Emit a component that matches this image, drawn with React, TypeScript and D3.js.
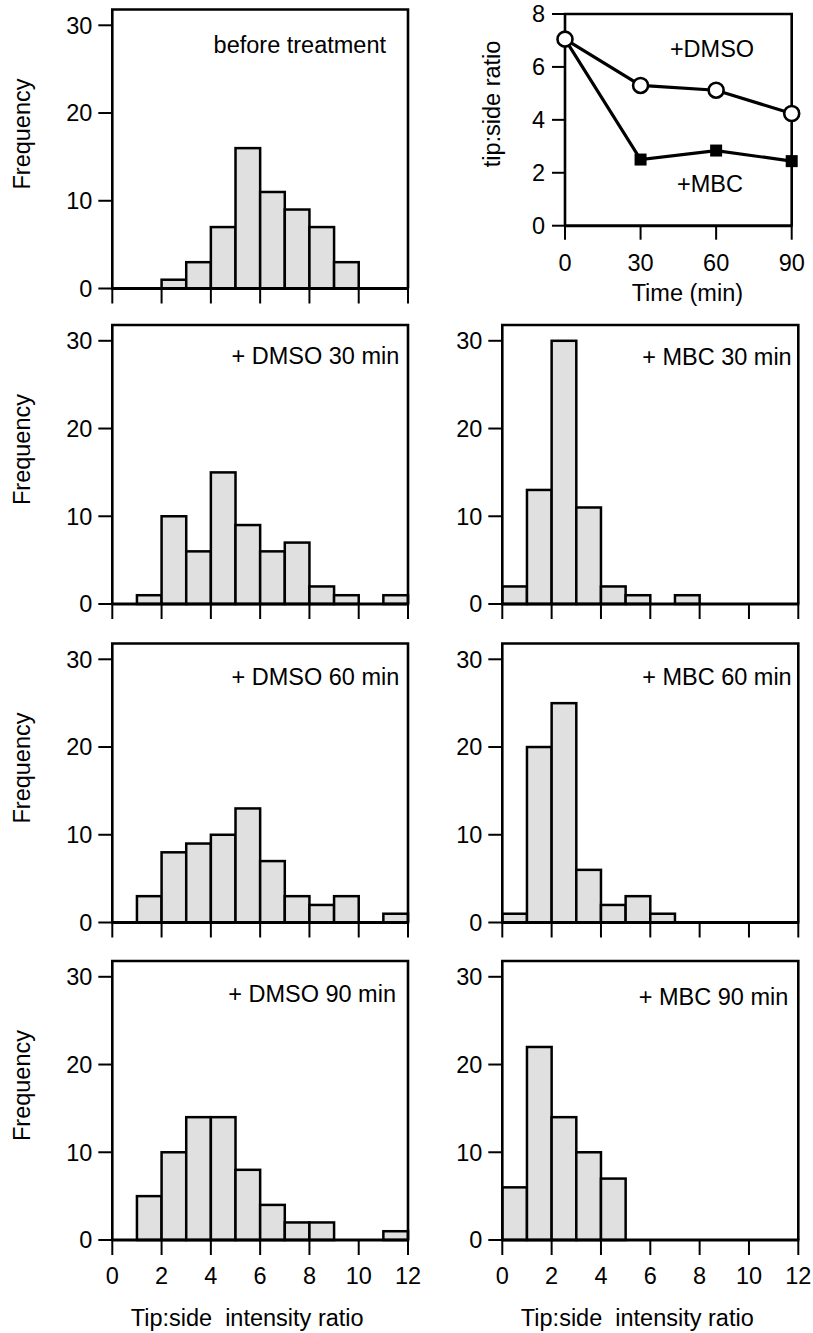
import React from 'react';
import * as d3 from 'd3';

// ---------- data ----------
const binStarts = [0, 1, 2, 3, 4, 5, 6, 7, 8, 9, 10, 11];
const beforeCounts = [0, 0, 1, 3, 7, 16, 11, 9, 7, 3, 0, 0];
const dmso30Counts = [0, 1, 10, 6, 15, 9, 6, 7, 2, 1, 0, 1];
const dmso60Counts = [0, 3, 8, 9, 10, 13, 7, 3, 2, 3, 0, 1];
const dmso90Counts = [0, 5, 10, 14, 14, 8, 4, 2, 2, 0, 0, 1];
const mbc30Counts = [2, 13, 30, 11, 2, 1, 0, 1, 0, 0, 0, 0];
const mbc60Counts = [1, 20, 25, 6, 2, 3, 1, 0, 0, 0, 0, 0];
const mbc90Counts = [6, 22, 14, 10, 7, 0, 0, 0, 0, 0, 0, 0];
const freqTicks = [0, 10, 20, 30];
const ratioTicks = [0, 2, 4, 6, 8, 10, 12];

const timePoints = [0, 30, 60, 90];
const dmsoRatio = [7.05, 5.3, 5.12, 4.24];
const mbcRatio = [7.05, 2.5, 2.84, 2.44];
const ratioAxisTicks = [0, 2, 4, 6, 8];

const FONT = '"Liberation Sans", Arial, Helvetica, sans-serif';
const FS = 23.5;

type HistProps = {
  counts: number[];
  x0: number;
  x1: number;
  base: number;
  label: string;
  labelDx: number;
  labelDy: number;
  showYLabel: boolean;
  showXLabels: boolean;
};

function Histogram({ counts, x0, x1, base, label, labelDx, labelDy, showYLabel, showXLabels }: HistProps) {
  const x = d3.scaleLinear().domain([0, 12]).range([x0, x1]);
  const y = d3.scaleLinear().domain([0, 31.8]).range([base, base - 279]);
  const top = y(31.8);
  return (
    <g>
      {binStarts.map((b, i) =>
        counts[i] > 0 ? (
          <rect
            key={i}
            x={x(b)}
            y={y(counts[i])}
            width={x(b + 1) - x(b)}
            height={y(0) - y(counts[i])}
            fill="#e0e0e0"
            stroke="#000"
            strokeWidth={2.5}
          />
        ) : null
      )}
      <path d={`M${x0},${base} V${top} H${x1} V${base}`} fill="none" stroke="#000" strokeWidth={2.6} />
      <line x1={x0 - 1} x2={x1 + 1} y1={base} y2={base} stroke="#000" strokeWidth={3} />
      {freqTicks.map((t) => (
        <g key={t}>
          <line x1={x0 - 14} x2={x0} y1={y(t)} y2={y(t)} stroke="#000" strokeWidth={2} />
          <text x={x0 - 20} y={y(t)} dy="0.36em" textAnchor="end" fontSize={FS} fontFamily={FONT}>
            {t}
          </text>
        </g>
      ))}
      {ratioTicks.map((t) => (
        <g key={t}>
          <line x1={x(t)} x2={x(t)} y1={base} y2={base + 15} stroke="#000" strokeWidth={2} />
          {showXLabels && (
            <text x={x(t)} y={base + 44} textAnchor="middle" fontSize={FS} fontFamily={FONT}>
              {t}
            </text>
          )}
        </g>
      ))}
      <text x={x1 - labelDx} y={top + labelDy} textAnchor="end" fontSize={FS} fontFamily={FONT}>
        {label}
      </text>
      {showYLabel && (
        <text
          transform={`translate(${30},${(top + base) / 2 - 15}) rotate(-90)`}
          textAnchor="middle"
          fontSize={FS}
          fontFamily={FONT}
        >
          Frequency
        </text>
      )}
      {showXLabels && (
        <text
          x={(x0 + x1) / 2 - 13}
          y={base + 86}
          textAnchor="middle"
          fontSize={FS}
          fontFamily={FONT}
          xmlSpace="preserve"
          style={{ whiteSpace: 'pre' }}
        >
          {'Tip:side  intensity ratio'}
        </text>
      )}
    </g>
  );
}

function LineChart() {
  const x = d3.scaleLinear().domain([0, 90]).range([565, 791.7]);
  const y = d3.scaleLinear().domain([0, 8]).range([225.7, 14]);
  const line = d3
    .line<number>()
    .x((_, i) => x(timePoints[i]))
    .y((d) => y(d));
  const sq = 12;
  return (
    <g>
      <path d={`M${x(0)},${y(0)} V${y(8)} H${x(90)} V${y(0)}`} fill="none" stroke="#000" strokeWidth={2.6} />
      <line x1={x(0) - 1} x2={x(90) + 1} y1={y(0)} y2={y(0)} stroke="#000" strokeWidth={3} />
      {ratioAxisTicks.map((t) => (
        <g key={t}>
          <line x1={x(0) - 13} x2={x(0)} y1={y(t)} y2={y(t)} stroke="#000" strokeWidth={2} />
          <text x={x(0) - 20} y={y(t)} dy="0.36em" textAnchor="end" fontSize={FS} fontFamily={FONT}>
            {t}
          </text>
        </g>
      ))}
      {timePoints.map((t) => (
        <g key={t}>
          <line x1={x(t)} x2={x(t)} y1={y(0)} y2={y(0) + 14} stroke="#000" strokeWidth={2} />
          <text x={x(t)} y={y(0) + 45} textAnchor="middle" fontSize={FS} fontFamily={FONT}>
            {t}
          </text>
        </g>
      ))}
      <text x={(x(0) + x(90)) / 2 + 9} y={y(0) + 75} textAnchor="middle" fontSize={FS} fontFamily={FONT}>
        Time (min)
      </text>
      <text
        transform={`translate(${500},${104}) rotate(-90)`}
        textAnchor="middle"
        fontSize={FS}
        fontFamily={FONT}
      >
        tip:side ratio
      </text>
      <path d={line(mbcRatio) || ''} fill="none" stroke="#000" strokeWidth={3.2} />
      <path d={line(dmsoRatio) || ''} fill="none" stroke="#000" strokeWidth={3.2} />
      {mbcRatio.slice(1).map((v, i) => (
        <rect
          key={i}
          x={x(timePoints[i + 1]) - sq / 2}
          y={y(v) - sq / 2}
          width={sq}
          height={sq}
          fill="#000"
        />
      ))}
      {dmsoRatio.map((v, i) => (
        <circle key={i} cx={x(timePoints[i])} cy={y(v)} r={7.5} fill="#fff" stroke="#000" strokeWidth={2.6} />
      ))}
      <text x={712} y={57} textAnchor="middle" fontSize={FS} fontFamily={FONT}>
        +DMSO
      </text>
      <text x={710} y={192} textAnchor="middle" fontSize={FS} fontFamily={FONT}>
        +MBC
      </text>
    </g>
  );
}

const LX0 = 112.3;
const LX1 = 408;
const RX0 = 502.3;
const RX1 = 798.3;
const rowBase = [288.5, 604, 922.5, 1240];

export default function App() {
  return (
    <svg
      width={813}
      height={1333}
      viewBox="0 0 813 1333"
      style={{ position: 'absolute', left: 0, top: 0, display: 'block', background: '#fff' }}
    >
      <rect x={0} y={0} width={813} height={1333} fill="#fff" />
      <Histogram counts={beforeCounts} x0={LX0} x1={LX1} base={rowBase[0]} label="before treatment" labelDx={22} labelDy={43.5} showYLabel showXLabels={false} />
      <LineChart />
      <Histogram counts={dmso30Counts} x0={LX0} x1={LX1} base={rowBase[1]} label="+ DMSO 30 min" labelDx={8.7} labelDy={39} showYLabel showXLabels={false} />
      <Histogram counts={mbc30Counts} x0={RX0} x1={RX1} base={rowBase[1]} label="+ MBC 30 min" labelDx={6.6} labelDy={40} showYLabel={false} showXLabels={false} />
      <Histogram counts={dmso60Counts} x0={LX0} x1={LX1} base={rowBase[2]} label="+ DMSO 60 min" labelDx={8.7} labelDy={41.5} showYLabel showXLabels={false} />
      <Histogram counts={mbc60Counts} x0={RX0} x1={RX1} base={rowBase[2]} label="+ MBC 60 min" labelDx={6.6} labelDy={41.5} showYLabel={false} showXLabels={false} />
      <Histogram counts={dmso90Counts} x0={LX0} x1={LX1} base={rowBase[3]} label="+ DMSO 90 min" labelDx={12} labelDy={40.7} showYLabel showXLabels />
      <Histogram counts={mbc90Counts} x0={RX0} x1={RX1} base={rowBase[3]} label="+ MBC 90 min" labelDx={10} labelDy={44} showYLabel={false} showXLabels />
    </svg>
  );
}
